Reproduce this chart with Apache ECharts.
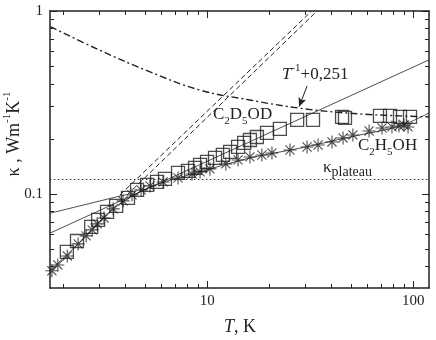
<!DOCTYPE html>
<html>
<head>
<meta charset="utf-8">
<script src="https://cdn.jsdelivr.net/npm/echarts@6/dist/echarts.min.js"></script>
<style>
html, body { margin: 0; padding: 0; background: #fff; }
#container { width: 436px; height: 340px; }
</style>
</head>
<body>
<div id="container"></div>
<script>
// C2D5OD (squares), T in K, kappa in W/(m K)
var tD = [2.08, 2.33, 2.73, 2.95, 3.26, 3.61, 4.12, 4.56, 5.10, 5.70, 6.23, 7.21, 8.06, 8.72, 9.22, 9.97, 10.9, 11.9, 12.9, 14.1, 15.1, 16.1, 17.4, 19.5, 22.5, 27.3, 32.6, 45.1, 46.6, 68.9, 77.1, 86.2, 96.4];
var kD = [0.0482, 0.0553, 0.0660, 0.0721, 0.0797, 0.0860, 0.0951, 0.1052, 0.1120, 0.1163, 0.1208, 0.1302, 0.1336, 0.1387, 0.1440, 0.1496, 0.1573, 0.1633, 0.1696, 0.1806, 0.1900, 0.1972, 0.2048, 0.2154, 0.2265, 0.2537, 0.2537, 0.2635, 0.2602, 0.2668, 0.2668, 0.2635, 0.2635];
// C2H5OH (asterisks)
var tH = [1.76, 1.88, 2.09, 2.36, 2.58, 2.76, 2.92, 3.15, 3.49, 3.90, 4.31, 4.77, 5.27, 6.10, 7.21, 8.43, 9.22, 10.3, 12.3, 14.1, 16.1, 18.4, 20.6, 25.2, 30.5, 34.5, 40.3, 45.6, 50.9, 61.0, 70.5, 78.8, 85.2, 90.1, 94.3];
var kH = [0.0380, 0.0409, 0.0458, 0.0533, 0.0590, 0.0636, 0.0686, 0.0739, 0.0828, 0.0916, 0.0988, 0.1052, 0.1106, 0.1163, 0.1223, 0.1286, 0.1319, 0.1370, 0.1459, 0.1534, 0.1593, 0.1633, 0.1675, 0.1739, 0.1806, 0.1852, 0.1924, 0.2023, 0.2101, 0.2209, 0.2295, 0.2324, 0.2353, 0.2382, 0.2324];
// thin solid lines
var tFitA = [1.72, 119], kFitA = [0.061, 0.54];
var tFitB = [1.72, 4.0], kFitB = [0.0784, 0.099];
var tFitC = [1.72, 2.36, 3.49, 5.27, 9.22, 16.1, 28.1, 49.2, 86.4, 119];
var kFitC = [0.0380, 0.0533, 0.0828, 0.1091, 0.1319, 0.1573, 0.1778, 0.2046, 0.2353, 0.277];
// dashed pair
var tDash1 = [3.77, 32.1], kDash1 = [0.0988, 1];
var tDash2 = [4.08, 34.1], kDash2 = [0.0988, 1];
// dash-dot curve T^-1+0,251
var tInv = [1.73, 2.99, 5.24, 9.17, 16.1, 28.2, 49.3, 86.4, 119];
var kInv = [0.821, 0.612, 0.466, 0.370, 0.326, 0.294, 0.276, 0.267, 0.264];
// kappa plateau
var tPlat = [1.72, 119], kPlat = [0.120, 0.120];

var xRange = [1.723, 119.2], yRange = [0.0306, 1];
var xMajor = [10, 100];
var xMinor = [2, 3, 4, 5, 6, 7, 8, 9, 20, 30, 40, 50, 60, 70, 80, 90];
var yMajor = [0.1, 1];
var yMinor = [0.04, 0.05, 0.06, 0.07, 0.08, 0.09, 0.2, 0.3, 0.4, 0.5, 0.6, 0.7, 0.8, 0.9];

var lg = Math.log10;
function pts(t, k) { return t.map(function (v, i) { return [lg(v), lg(k[i])]; }); }

var serif = 'Liberation Serif';
var ink = '#222';

function fmt(v) {
    var r = Math.pow(10, v);
    return r >= 1 ? String(Math.round(r)) : r.toFixed(1);
}

function axis(dim, pos, ticks, len, withLine, withLabels) {
    var rng = dim === 'x' ? xRange : yRange;
    return {
        type: 'value', position: pos,
        min: lg(rng[0]), max: lg(rng[1]),
        axisLine: {show: withLine, onZero: false, lineStyle: {color: ink, width: 1.5}},
        axisTick: {show: true, inside: true, length: len, customValues: ticks.map(lg),
                   lineStyle: {color: ink, width: 1}},
        axisLabel: {show: withLabels, customValues: ticks.map(lg), formatter: fmt,
                    margin: dim === 'x' ? 6 : 7, fontFamily: serif, fontSize: 15, color: ink},
        splitLine: {show: false}
    };
}

var dom = document.getElementById('container');
var myChart = echarts.init(dom);

var thin = function (data, width, type) {
    return {type: 'line', data: data, symbol: 'none', silent: true,
            lineStyle: {color: ink, width: width, type: type || 'solid'}, z: 2};
};

var asterisk = 'path://M0,5L10,5M5,0L5,10M1.5,1.5L8.5,8.5M8.5,1.5L1.5,8.5';

var option = {
    animation: false,
    backgroundColor: '#fff',
    grid: {left: 50, right: 7, top: 11, bottom: 52, outerBoundsMode: 'none'},
    xAxis: [
        axis('x', 'bottom', xMajor, 7, true, true),
        axis('x', 'bottom', xMinor, 4, false, false),
        axis('x', 'top', xMajor, 7, true, false),
        axis('x', 'top', xMinor, 4, false, false)
    ],
    yAxis: [
        axis('y', 'left', yMajor, 7, true, true),
        axis('y', 'left', yMinor, 4, false, false),
        axis('y', 'right', yMajor, 7, true, false),
        axis('y', 'right', yMinor, 4, false, false)
    ],
    series: [
        thin(pts(tPlat, kPlat), 1, [1.5, 2.5]),
        thin(pts(tFitA, kFitA), 0.8),
        thin(pts(tFitB, kFitB), 0.8),
        Object.assign(thin(pts(tFitC, kFitC), 0.8), {smooth: 0.3}),
        thin(pts(tDash1, kDash1), 1, [5, 3]),
        thin(pts(tDash2, kDash2), 1, [5, 3]),
        Object.assign(thin(pts(tInv, kInv), 1.4, [7, 3, 2, 3]), {
            smooth: 0.4,
            markLine: {
                silent: true, symbol: ['none', 'arrow'], symbolSize: [6, 9],
                label: {show: false},
                lineStyle: {color: ink, width: 1, type: 'solid'},
                data: [[{coord: [lg(30.5), lg(0.389)]}, {coord: [lg(27.9), lg(0.300)]}]]
            }
        }),
        {
            name: 'C2D5OD', type: 'scatter', data: pts(tD, kD),
            symbol: 'rect', symbolSize: 13, z: 4,
            itemStyle: {color: 'transparent', borderColor: ink, borderWidth: 1.3}
        },
        {
            name: 'C2H5OH', type: 'scatter', data: pts(tH, kH),
            symbol: asterisk, symbolSize: 13, symbolKeepAspect: true, z: 3,
            itemStyle: {color: 'transparent', borderColor: ink, borderWidth: 1.1}
        }
    ],
    graphic: [
        {type: 'text', x: 282, y: 75, silent: true,
         style: {text: '{i|T}{sup|-1}{n|+0,251}', align: 'left', verticalAlign: 'middle', fill: ink,
                 rich: {
                     i: {fontFamily: serif, fontSize: 17, fontStyle: 'italic', lineHeight: 24, verticalAlign: 'middle'},
                     n: {fontFamily: serif, fontSize: 17, lineHeight: 24, verticalAlign: 'middle'},
                     sup: {fontFamily: serif, fontSize: 11, lineHeight: 11, verticalAlign: 'top'}
                 }}},
        {type: 'text', x: 213, y: 115, silent: true,
         style: {text: '{n|C}{sub|2}{n|D}{sub|5}{n|OD}', align: 'left', verticalAlign: 'middle', fill: ink,
                 rich: {
                     n: {fontFamily: serif, fontSize: 17, lineHeight: 24, verticalAlign: 'middle'},
                     sub: {fontFamily: serif, fontSize: 11, lineHeight: 11, verticalAlign: 'bottom'}
                 }}},
        {type: 'text', x: 358, y: 146, silent: true,
         style: {text: '{n|C}{sub|2}{n|H}{sub|5}{n|OH}', align: 'left', verticalAlign: 'middle', fill: ink,
                 rich: {
                     n: {fontFamily: serif, fontSize: 17, lineHeight: 24, verticalAlign: 'middle'},
                     sub: {fontFamily: serif, fontSize: 11, lineHeight: 11, verticalAlign: 'bottom'}
                 }}},
        {type: 'text', x: 323, y: 168, silent: true,
         style: {text: '{n|κ}{sub|plateau}', align: 'left', verticalAlign: 'middle', fill: ink,
                 rich: {
                     n: {fontFamily: serif, fontSize: 17, lineHeight: 22, verticalAlign: 'middle'},
                     sub: {fontFamily: serif, fontSize: 14, lineHeight: 14, verticalAlign: 'bottom'}
                 }}},
        {type: 'text', x: 240, y: 327, silent: true,
         style: {text: '{i|T}{n|, K}', align: 'center', verticalAlign: 'middle', fill: ink,
                 rich: {
                     i: {fontFamily: serif, fontSize: 18, fontStyle: 'italic', lineHeight: 24, verticalAlign: 'middle'},
                     n: {fontFamily: serif, fontSize: 18, lineHeight: 24, verticalAlign: 'middle'}
                 }}},
        {type: 'text', x: 14, y: 134, rotation: Math.PI / 2, silent: true,
         style: {text: '{n|κ , Wm}{sup|-1}{n|K}{sup|-1}', align: 'center', verticalAlign: 'middle', fill: ink,
                 rich: {
                     n: {fontFamily: serif, fontSize: 18, lineHeight: 24, verticalAlign: 'middle'},
                     sup: {fontFamily: serif, fontSize: 11, lineHeight: 11, verticalAlign: 'top'}
                 }}}
    ]
};
myChart.setOption(option, true);
</script>
</body>
</html>
